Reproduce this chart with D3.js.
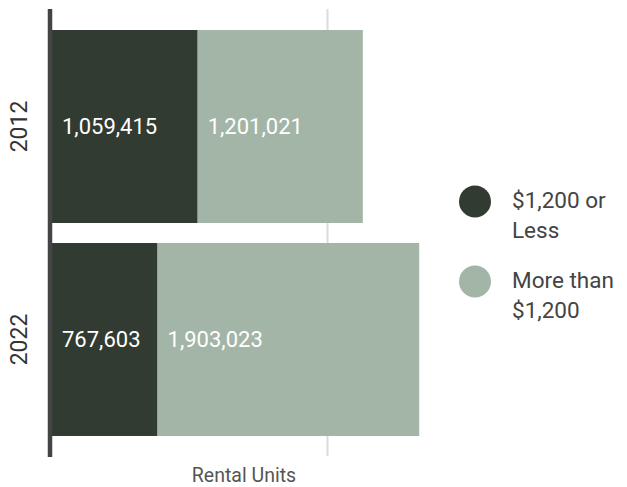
<!DOCTYPE html>
<html>
<head>
<meta charset="utf-8">
<script src="https://cdn.jsdelivr.net/npm/d3@7"></script>
<style>
  body { margin: 0; background: #fff; }
  svg { display: block; font-family: Roboto, sans-serif; }
  .grid line { stroke: #dcdcdc; stroke-width: 2; }
  .grid path { display: none; }
</style>
</head>
<body>
<script>
// data
var years = ["2012", "2022"];
var series = ["$1,200 or Less", "More than $1,200"];
var lowRent = [1059415, 767603];
var highRent = [1201021, 1903023];
var gridTicks = [2000000];
var legendLines = [["$1,200 or", "Less"], ["More than", "$1,200"]];

var width = 627;
var height = 487;

var colors = d3.scaleOrdinal()
  .domain(series)
  .range(["#323b32", "#a3b5a6"]);

var rows = years.map(function(y, i) {
  return { year: y, low: lowRent[i], high: highRent[i] };
});

var stacked = d3.stack().keys(["low", "high"])(rows);

var svg = d3.select("body")
  .append("svg")
  .attr("width", width)
  .attr("height", height);

var x = d3.scaleLinear()
  .domain([0, 3000000])
  .range([52, 464.5]);

var y = d3.scaleBand()
  .domain(years)
  .range([10, 456])
  .padding(0.094);

// gridline
svg.append("g")
  .attr("class", "grid")
  .attr("transform", "translate(0,456)")
  .call(d3.axisBottom(x).tickValues(gridTicks).tickSize(-447).tickFormat(""));

// bars
var layers = svg.selectAll(".layer")
  .data(stacked)
  .enter()
  .append("g")
  .attr("class", "layer")
  .attr("fill", function(d, i) { return colors(series[i]); });

layers.selectAll("rect")
  .data(function(d) { return d; })
  .enter()
  .append("rect")
  .attr("x", function(d) { return x(d[0]); })
  .attr("y", function(d) { return y(d.data.year); })
  .attr("width", function(d) { return x(d[1]) - x(d[0]); })
  .attr("height", y.bandwidth());

// value labels
layers.selectAll("text")
  .data(function(d) { return d; })
  .enter()
  .append("text")
  .attr("x", function(d) { return x(d[0]) + 10; })
  .attr("y", function(d) { return y(d.data.year) + y.bandwidth() / 2; })
  .attr("dy", "0.35em")
  .attr("fill", "#fff")
  .style("font-size", "22px")
  .text(function(d) { return d3.format(",")(d[1] - d[0]); });

// y axis line
svg.append("line")
  .attr("x1", 50).attr("x2", 50)
  .attr("y1", 9).attr("y2", 457)
  .attr("stroke", "#444")
  .attr("stroke-width", 4.5);

// year labels
svg.selectAll(".year")
  .data(years)
  .enter()
  .append("text")
  .attr("class", "year")
  .attr("transform", function(d) {
    return "translate(27," + (y(d) + y.bandwidth() / 2) + ") rotate(-90)";
  })
  .attr("text-anchor", "middle")
  .attr("fill", "#333")
  .style("font-size", "23px")
  .text(function(d) { return d; });

// axis title
svg.append("text")
  .attr("x", 244)
  .attr("y", 482)
  .attr("text-anchor", "middle")
  .attr("fill", "#555")
  .style("font-size", "19.5px")
  .text("Rental Units");

// legend
var legend = svg.selectAll(".legend")
  .data(series)
  .enter()
  .append("g")
  .attr("class", "legend")
  .attr("transform", function(d, i) { return "translate(475," + (201.5 + i * 80) + ")"; });

legend.append("circle")
  .attr("r", 16)
  .attr("fill", function(d) { return colors(d); });

legend.append("text")
  .attr("fill", "#444")
  .style("font-size", "22.5px")
  .selectAll("tspan")
  .data(function(d, i) { return legendLines[i]; })
  .enter()
  .append("tspan")
  .attr("x", 37)
  .attr("y", function(d, j) { return 6.5 + j * 29.5; })
  .text(function(d) { return d; });
</script>
</body>
</html>
